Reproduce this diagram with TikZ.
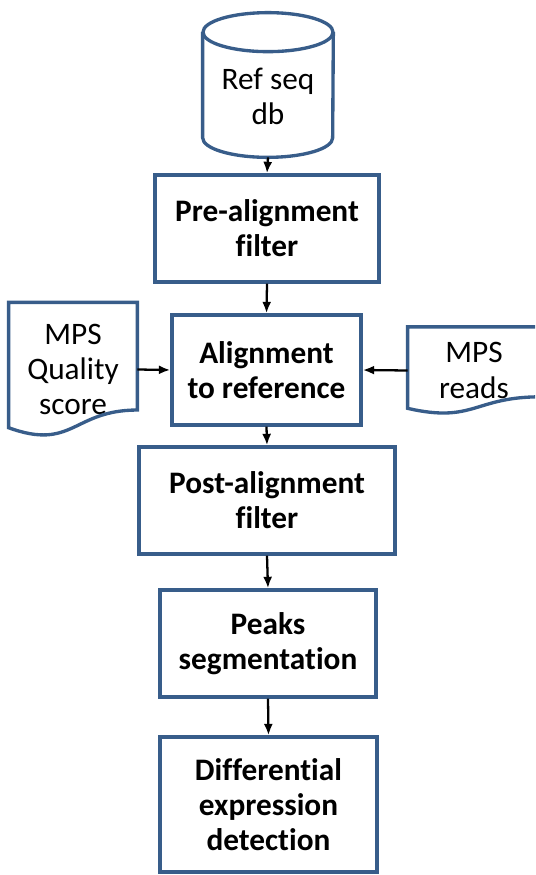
\documentclass[tikz,border=0pt]{standalone}
\usepackage{fontspec}
\setmainfont{Carlito}[Ligatures=CommonOff]
\usetikzlibrary{arrows.meta,calc}
\definecolor{boxblue}{HTML}{385D8A}
% wavy bottom of a document node
\newcommand{\docoutline}[1]{%
  \draw[docline] (#1.north west) -- (#1.north east)
    -- ($(#1.north east)!0.802!(#1.south east)$)
    .. controls ($(#1.north)!0.802!(#1.south)$) and ($(#1.north)!1.108!(#1.south)$)
    .. ($(#1.north west)!0.934!(#1.south west)$) -- cycle;}
\begin{document}
\begin{tikzpicture}[
  procbox/.style={shape=rectangle,draw=boxblue,line width=1.9pt,align=center,
    font=\fontsize{17.8}{20}\selectfont\bfseries},
  docbox/.style={shape=rectangle,align=center,inner sep=0pt,
    font=\fontsize{17.8}{20}\selectfont},
  docline/.style={draw=boxblue,line width=1.9pt},
  flowarrow/.style={-{Latex[length=2.3mm,width=1.8mm]},line width=1.3pt}]
\useasboundingbox (0,0) rectangle (10.7,-17.5);
\clip (0,0) rectangle (10.7,-17.5);

\node(refdb) at (5.36,-1.895)[docbox,minimum width=2.6cm,minimum height=2.49cm,yshift=-0.04cm] {Ref seq\\db};
\node(prefilter) at (5.34,-4.57)[procbox,minimum width=4.48cm,minimum height=2.14cm] {Pre-alignment\\filter};
\node(align) at (5.33,-7.40)[procbox,minimum width=3.78cm,minimum height=2.2cm] {Alignment\\to reference};
\node(postfilter) at (5.34,-10.01)[procbox,minimum width=5.12cm,minimum height=2.14cm] {Post-alignment\\filter};
\node(peaks) at (5.36,-12.87)[procbox,minimum width=4.32cm,minimum height=2.14cm] {Peaks\\segmentation};
\node(diffexpr) at (5.37,-16.09)[procbox,minimum width=4.34cm,minimum height=2.7cm] {Differential\\expression\\detection};
\node(mpsqual) at (1.46,-7.39)[docbox,minimum width=2.56cm,minimum height=2.67cm] {MPS\\Quality\\score};
\node(mpsreads) at (9.48,-7.41)[docbox,minimum width=2.64cm,minimum height=1.73cm] {MPS\\reads};

% database cylinder
\draw[docline] ([yshift=0.04cm]refdb.north west) -- ([yshift=0.43cm]refdb.south west)
  arc[start angle=180,end angle=360,x radius=1.3cm,y radius=0.39cm] -- ([yshift=0.04cm]refdb.north east);
\draw[docline] ([yshift=0.04cm]refdb.north) ellipse [x radius=1.3cm,y radius=0.39cm];
\coordinate(dbfoot) at ([yshift=0.04cm]refdb.south);

\docoutline{mpsqual}
\docoutline{mpsreads}

\path [flowarrow]
  (dbfoot)           edge   (prefilter.north)
  (prefilter.south)  edge   (align.north)
  (align.south)      edge   (postfilter.north)
  (postfilter.south) edge   (peaks.north)
  (peaks.south)      edge   (diffexpr.north)
  (mpsqual.east)     edge   (align.west)
  (mpsreads.west)    edge   (align.east);

\end{tikzpicture}
\end{document}
